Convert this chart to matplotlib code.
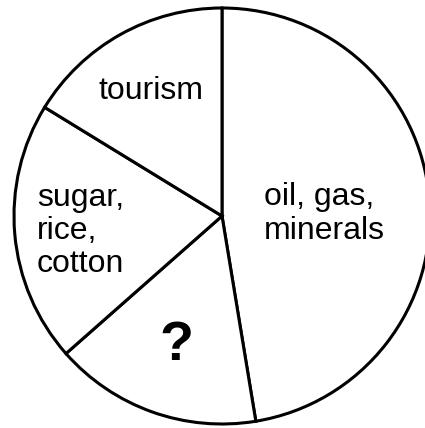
import matplotlib
matplotlib.use('Agg')
import matplotlib.pyplot as plt

# slices, clockwise from the top
labels = ['oil, gas,\nminerals', '?', 'sugar,\nrice,\ncotton', 'tourism']
shares = [47.4, 16.1, 20.25, 16.25]

plt.rcParams['font.family'] = ['Liberation Sans', 'DejaVu Sans']

fig = plt.figure(figsize=(4.25, 4.28), dpi=100)
ax = fig.add_axes([0, 0, 1, 1])

ax.pie(shares, center=(222, 212), radius=208, startangle=90, counterclock=False,
       colors=['white'] * 4, wedgeprops=dict(edgecolor='black', linewidth=2.2),
       frame=True)
ax.set_xlim(0, 425)
ax.set_ylim(0, 428)
ax.set_aspect('equal')
ax.axis('off')

# labels
ax.text(264, 214, labels[0], fontsize=23, ha='left', va='center', linespacing=1.15)
ax.text(176, 82, labels[1], fontsize=40, fontweight='bold', ha='center', va='center')
ax.text(37, 197, labels[2], fontsize=23, ha='left', va='center', linespacing=1.15)
ax.text(151, 337, labels[3], fontsize=23, ha='center', va='center')

plt.savefig('out.png', dpi=100)
